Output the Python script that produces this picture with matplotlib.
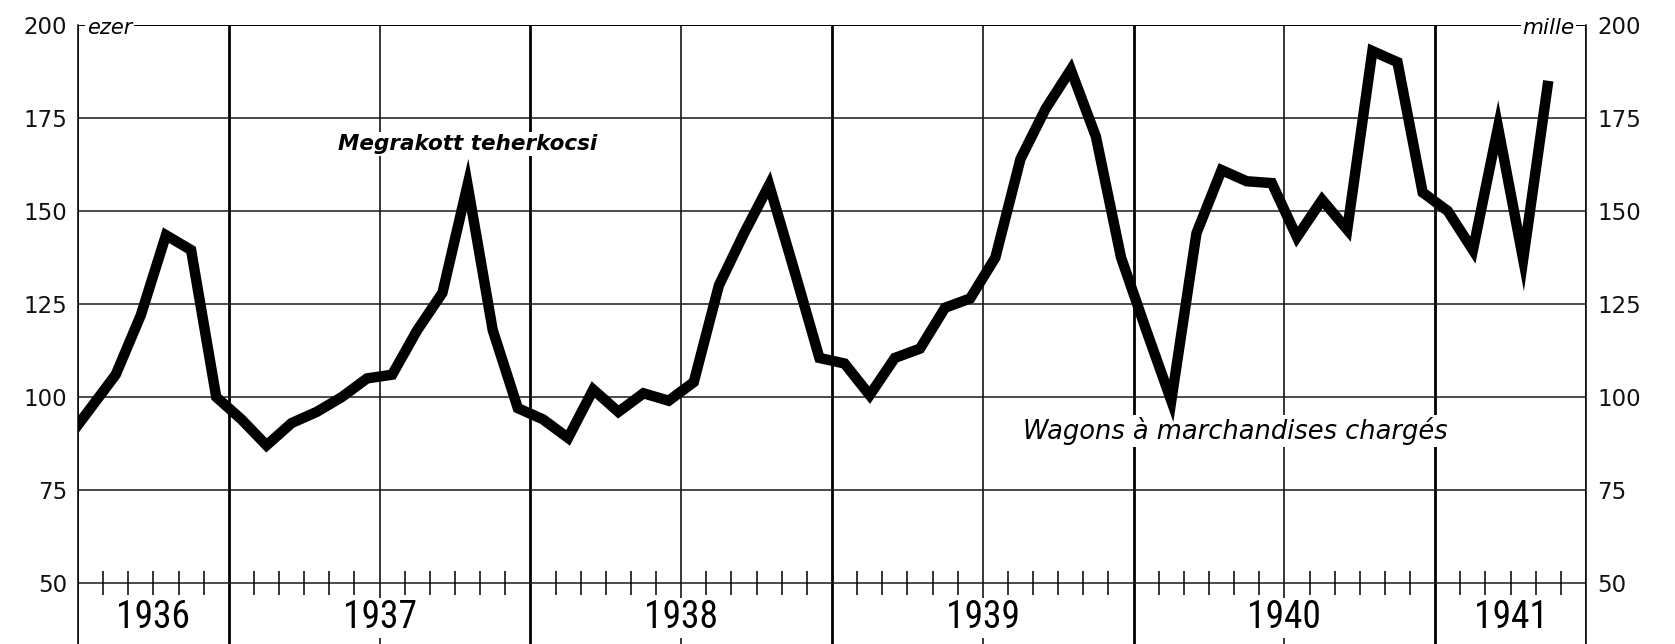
"""Megrakott teherkocsi / Wagons a marchandises charges, 1936-1941 (monthly, thousands)."""

import matplotlib

matplotlib.use("Agg")
import matplotlib.pyplot as plt  # noqa: E402
import numpy as np  # noqa: E402
from matplotlib import font_manager  # noqa: E402

# monthly values, Jun 1936 .. May 1941 (ezer / mille)
start_year, start_month = 1936, 6
wagons = [
    88, 97, 106, 122, 143.5, 139.5, 100,                          # 1936 Jun-Dec
    94, 87, 93, 96, 100, 105, 106, 118, 128, 157, 118, 97,        # 1937
    94, 89, 102, 96, 101, 99, 104, 130, 144, 157, 134, 110.5,     # 1938
    109, 100.5, 110.5, 113, 124, 126.5, 137.5, 164, 177.5, 188, 170, 137.5,  # 1939
    118, 99, 144, 161, 158, 157.5, 143, 153, 145, 193, 190, 155,  # 1940
    150, 139.5, 172.5, 137, 185,                                  # 1941 Jan-May
]
y_ticks = [50, 75, 100, 125, 150, 175, 200]
years = [1936, 1937, 1938, 1939, 1940, 1941]
label_hu = "Megrakott teherkocsi"
label_fr = "Wagons à marchandises chargés"

# narrow face for the year labels, whichever is installed
installed = {f.name for f in font_manager.fontManager.ttflist}
narrow = [f for f in ("Liberation Sans Narrow", "DejaVu Sans Condensed",
                      "Roboto Condensed", "Liberation Sans") if f in installed]
narrow = (narrow or ["DejaVu Sans"])[0]

# x axis in months, 0 = 1 Jul 1936, 60 = 1 Jul 1941; points sit mid-month
x0_year, x0_month = 1936, 7
n_months = 60
offset = (start_year - x0_year) * 12 + (start_month - x0_month)
x = np.arange(len(wagons)) + offset + 0.5

W, H = 1675, 644
fig = plt.figure(figsize=(W / 100, H / 100), dpi=100)
top_px, left_px, right_px = 25, 78, 1586
px_per_unit = 3.72
ymin = 200 - (H - top_px) / px_per_unit
ax = fig.add_axes([left_px / W, 0, (right_px - left_px) / W, (H - top_px) / H])
ax.set_xlim(0, n_months)
ax.set_ylim(ymin, 200)

# half-year grid: Jan 1 heavy, Jul 1 light
jan = [m for m in range(0, n_months + 1, 6) if (x0_month - 1 + m) % 12 == 0]
jul = [m for m in range(0, n_months + 1, 6) if m not in jan]
ax.set_xticks(jan)
ax.set_xticks(jul, minor=True)
ax.xaxis.grid(True, which="major", color="black", lw=2.0)
ax.xaxis.grid(True, which="minor", color="black", lw=1.1)
ax.set_yticks(y_ticks)
ax.yaxis.grid(True, color="#1a1a1a", lw=1.1)
ax.tick_params(axis="x", which="both", length=0, labelbottom=False)
ax.tick_params(axis="y", length=0, pad=8, labelsize=16.5, labelleft=True,
               labelright=True, colors="#111111")
for side in ("top", "bottom"):
    ax.spines[side].set_visible(False)
for side in ("left", "right"):
    ax.spines[side].set_linewidth(1.1)
ax.axhline(200, color="black", lw=1.4)

# month ticks across the 50 line
months = [m for m in range(1, n_months) if m % 6 != 0]
ax.vlines(months, 50 - 3.3, 50 + 3.3, color="black", lw=1.1)

ax.plot(x, wagons, color="black", lw=7.5, solid_joinstyle="miter",
        solid_capstyle="butt", zorder=5)

box = dict(facecolor="white", edgecolor="none", pad=1.5)
ax.text(10.35, 168, label_hu, fontsize=15.5, style="italic", fontweight="semibold",
        va="center", ha="left", bbox=box, zorder=4)
ax.text(37.6, 90.9, label_fr, fontsize=18.5, style="italic",
        va="center", ha="left", bbox=box, zorder=4)
ax.text(0.35, 199.3, "ezer", fontsize=15, style="italic", va="center",
        ha="left", bbox=dict(facecolor="white", edgecolor="none", pad=1), clip_on=False)
ax.text(59.55, 199.3, "mille", fontsize=15.5, style="italic", va="center",
        ha="right", bbox=dict(facecolor="white", edgecolor="none", pad=1), clip_on=False)

for yr in years:
    a = (yr - x0_year) * 12 - (x0_month - 1)
    lo, hi = max(a, 0), min(a + 12, n_months)
    ax.text((lo + hi) / 2, 40.6, str(yr), fontsize=27, ha="center", va="center",
            family=narrow, stretch="condensed",
            bbox=dict(facecolor="white", edgecolor="none", pad=1), zorder=4)

fig.savefig("out.png", dpi=100)
